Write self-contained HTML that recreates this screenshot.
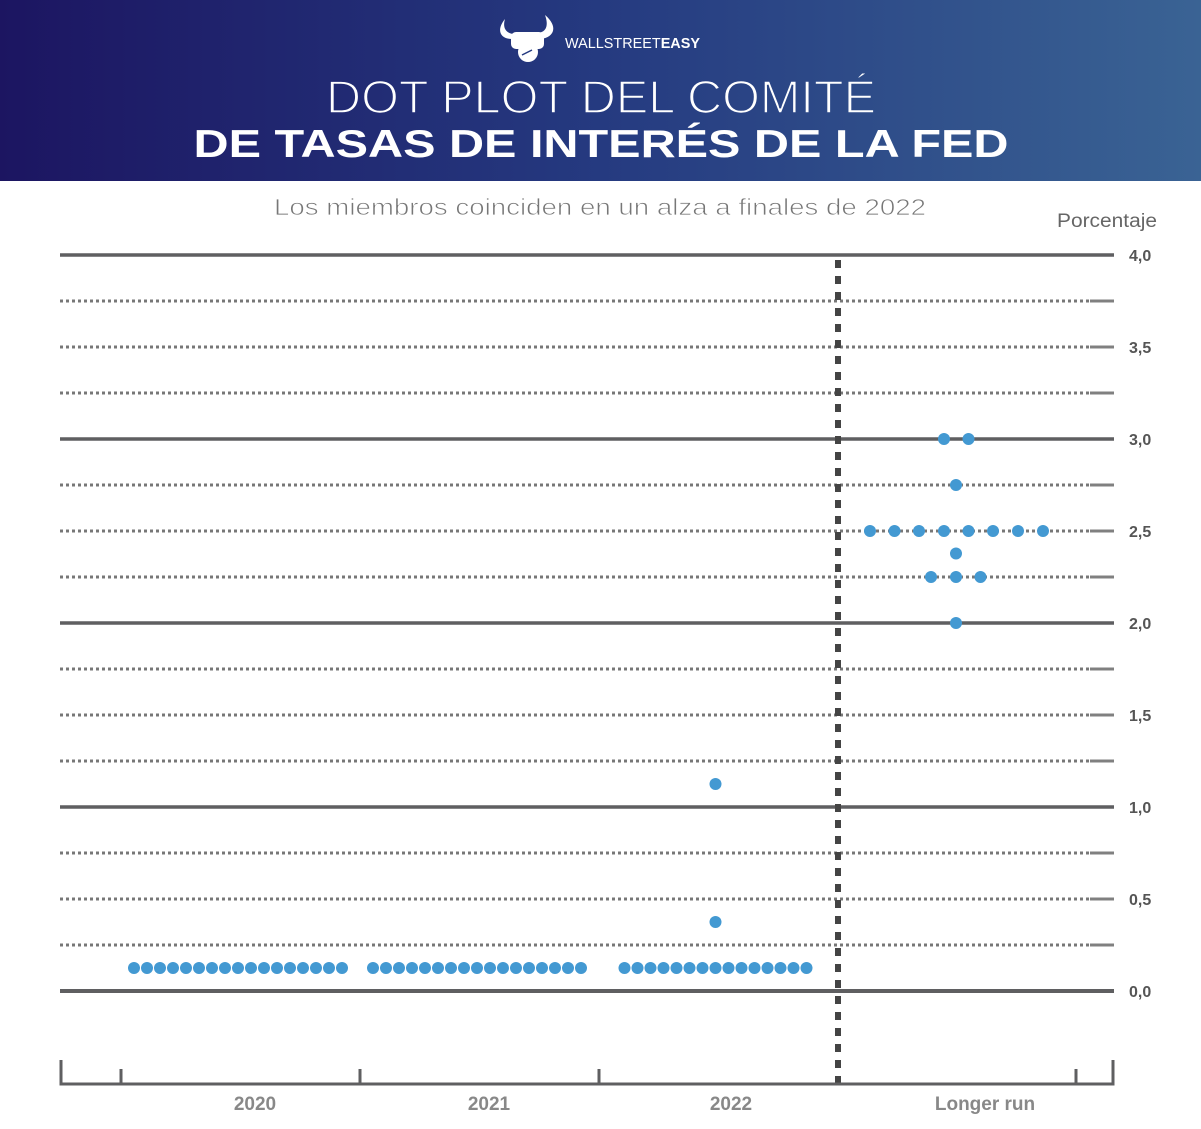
<!DOCTYPE html>
<html>
<head>
<meta charset="utf-8">
<style>
  html,body{margin:0;padding:0;background:#fff;}
  body{width:1201px;height:1129px;overflow:hidden;}
  svg{display:block;}
</style>
</head>
<body>
<svg width="1201" height="1129" viewBox="0 0 1201 1129" xmlns="http://www.w3.org/2000/svg">
  <defs>
    <linearGradient id="hg" x1="0" y1="0" x2="1201" y2="0" gradientUnits="userSpaceOnUse">
      <stop offset="0" stop-color="#1c1561"/>
      <stop offset="0.5" stop-color="#253a80"/>
      <stop offset="1" stop-color="#3a6394"/>
    </linearGradient>
  </defs>
  <!-- Header -->
  <rect x="0" y="0" width="1201" height="181" fill="url(#hg)"/>
  <!-- Logo -->
  <g fill="#fff">
    <path d="M512 39 C500 39 496 30 505 19 C502 29 507 34 515 34 Z"/>
    <path d="M541 39 C555 37 558 26 545 15 C549 26 546 32 538 33 Z"/>
    <rect x="511" y="32" width="33" height="17" rx="5"/>
    <circle cx="528" cy="52" r="10"/>
  </g>
  <path d="M522 55 L532 50" stroke="#243a80" stroke-width="1.5" fill="none"/>
  <text x="565" y="48" font-family="Liberation Sans, sans-serif" font-size="14.5" fill="#fff" textLength="135" lengthAdjust="spacingAndGlyphs"><tspan>WALLSTREET</tspan><tspan font-weight="bold">EASY</tspan></text>
  <!-- Titles -->
  <text x="601" y="113" text-anchor="middle" font-family="Liberation Sans, sans-serif" font-size="46" fill="#fff" stroke="url(#hg)" stroke-width="1.6" textLength="550" lengthAdjust="spacingAndGlyphs">DOT PLOT DEL COMITÉ</text>
  <text x="601" y="157" text-anchor="middle" font-family="Liberation Sans, sans-serif" font-weight="bold" font-size="39" fill="#fff" textLength="815" lengthAdjust="spacingAndGlyphs">DE TASAS DE INTERÉS DE LA FED</text>

  <!-- Subtitle -->
  <text x="600" y="215" text-anchor="middle" font-family="Liberation Sans, sans-serif" font-size="23" fill="#777" stroke="#fff" stroke-width="0.7" textLength="652" lengthAdjust="spacingAndGlyphs">Los miembros coinciden en un alza a finales de 2022</text>
  <text x="1157" y="227" text-anchor="end" font-family="Liberation Sans, sans-serif" font-size="19" fill="#666" textLength="100" lengthAdjust="spacingAndGlyphs">Porcentaje</text>

  <!-- Grid: solid lines -->
  <g stroke="#5f5f61" stroke-width="3.5">
    <line x1="60" y1="255" x2="1114" y2="255"/>
    <line x1="60" y1="439" x2="1114" y2="439"/>
    <line x1="60" y1="623" x2="1114" y2="623"/>
    <line x1="60" y1="807" x2="1114" y2="807"/>
    <line x1="60" y1="991" x2="1114" y2="991" stroke-width="4"/>
  </g>
  <!-- Grid: dotted lines -->
  <g stroke="#777" stroke-width="3" stroke-dasharray="3 3">
    <line x1="60" y1="301" x2="1090" y2="301"/>
    <line x1="60" y1="347" x2="1090" y2="347"/>
    <line x1="60" y1="393" x2="1090" y2="393"/>
    <line x1="60" y1="485" x2="1090" y2="485"/>
    <line x1="60" y1="531" x2="1090" y2="531"/>
    <line x1="60" y1="577" x2="1090" y2="577"/>
    <line x1="60" y1="669" x2="1090" y2="669"/>
    <line x1="60" y1="715" x2="1090" y2="715"/>
    <line x1="60" y1="761" x2="1090" y2="761"/>
    <line x1="60" y1="853" x2="1090" y2="853"/>
    <line x1="60" y1="899" x2="1090" y2="899"/>
    <line x1="60" y1="945" x2="1090" y2="945"/>
  </g>
  <g stroke="#808080" stroke-width="3">
    <line x1="1090" y1="301" x2="1114" y2="301"/>
    <line x1="1090" y1="347" x2="1114" y2="347"/>
    <line x1="1090" y1="393" x2="1114" y2="393"/>
    <line x1="1090" y1="485" x2="1114" y2="485"/>
    <line x1="1090" y1="531" x2="1114" y2="531"/>
    <line x1="1090" y1="577" x2="1114" y2="577"/>
    <line x1="1090" y1="669" x2="1114" y2="669"/>
    <line x1="1090" y1="715" x2="1114" y2="715"/>
    <line x1="1090" y1="761" x2="1114" y2="761"/>
    <line x1="1090" y1="853" x2="1114" y2="853"/>
    <line x1="1090" y1="899" x2="1114" y2="899"/>
    <line x1="1090" y1="945" x2="1114" y2="945"/>
  </g>

  <!-- Right labels -->
  <g font-family="Liberation Sans, sans-serif" font-weight="bold" font-size="16" fill="#555">
    <text x="1129" y="261">4,0</text>
    <text x="1129" y="353">3,5</text>
    <text x="1129" y="445">3,0</text>
    <text x="1129" y="537">2,5</text>
    <text x="1129" y="629">2,0</text>
    <text x="1129" y="721">1,5</text>
    <text x="1129" y="813">1,0</text>
    <text x="1129" y="905">0,5</text>
    <text x="1129" y="997">0,0</text>
  </g>

  <!-- Vertical dashed separator -->
  <line x1="838" y1="260" x2="838" y2="1084" stroke="#444" stroke-width="6" stroke-dasharray="8 8"/>

  <!-- Bottom axis -->
  <g stroke="#5f5f61" stroke-width="3" fill="none">
    <polyline points="61,1060 61,1084 1113,1084 1113,1060"/>
    <line x1="121" y1="1069" x2="121" y2="1084"/>
    <line x1="360" y1="1069" x2="360" y2="1084"/>
    <line x1="599" y1="1069" x2="599" y2="1084"/>
    <line x1="1076" y1="1069" x2="1076" y2="1084"/>
  </g>
  <g font-family="Liberation Sans, sans-serif" font-weight="bold" font-size="19" fill="#888" text-anchor="middle">
    <text x="255" y="1110">2020</text>
    <text x="489" y="1110">2021</text>
    <text x="731" y="1110">2022</text>
    <text x="985" y="1110">Longer run</text>
  </g>

  <!-- Dots -->
  <g fill="#4399d2">
    <!-- 2020 -->
    <circle cx="134" cy="968" r="6"/><circle cx="147" cy="968" r="6"/><circle cx="160" cy="968" r="6"/><circle cx="173" cy="968" r="6"/><circle cx="186" cy="968" r="6"/><circle cx="199" cy="968" r="6"/><circle cx="212" cy="968" r="6"/><circle cx="225" cy="968" r="6"/><circle cx="238" cy="968" r="6"/><circle cx="251" cy="968" r="6"/><circle cx="264" cy="968" r="6"/><circle cx="277" cy="968" r="6"/><circle cx="290" cy="968" r="6"/><circle cx="303" cy="968" r="6"/><circle cx="316" cy="968" r="6"/><circle cx="329" cy="968" r="6"/><circle cx="342" cy="968" r="6"/>
    <!-- 2021 -->
    <circle cx="373" cy="968" r="6"/><circle cx="386" cy="968" r="6"/><circle cx="399" cy="968" r="6"/><circle cx="412" cy="968" r="6"/><circle cx="425" cy="968" r="6"/><circle cx="438" cy="968" r="6"/><circle cx="451" cy="968" r="6"/><circle cx="464" cy="968" r="6"/><circle cx="477" cy="968" r="6"/><circle cx="490" cy="968" r="6"/><circle cx="503" cy="968" r="6"/><circle cx="516" cy="968" r="6"/><circle cx="529" cy="968" r="6"/><circle cx="542" cy="968" r="6"/><circle cx="555" cy="968" r="6"/><circle cx="568" cy="968" r="6"/><circle cx="581" cy="968" r="6"/>
    <!-- 2022 -->
    <circle cx="624.5" cy="968" r="6"/><circle cx="637.5" cy="968" r="6"/><circle cx="650.5" cy="968" r="6"/><circle cx="663.5" cy="968" r="6"/><circle cx="676.5" cy="968" r="6"/><circle cx="689.5" cy="968" r="6"/><circle cx="702.5" cy="968" r="6"/><circle cx="715.5" cy="968" r="6"/><circle cx="728.5" cy="968" r="6"/><circle cx="741.5" cy="968" r="6"/><circle cx="754.5" cy="968" r="6"/><circle cx="767.5" cy="968" r="6"/><circle cx="780.5" cy="968" r="6"/><circle cx="793.5" cy="968" r="6"/><circle cx="806.5" cy="968" r="6"/>
    <circle cx="715.5" cy="922" r="6"/>
    <circle cx="715.5" cy="784" r="6"/>
    <!-- Longer run -->
    <circle cx="944" cy="439" r="6"/><circle cx="968.5" cy="439" r="6"/>
    <circle cx="956" cy="485" r="6"/>
    <circle cx="870" cy="531" r="6"/><circle cx="894.5" cy="531" r="6"/><circle cx="919" cy="531" r="6"/><circle cx="944" cy="531" r="6"/><circle cx="968.5" cy="531" r="6"/><circle cx="993" cy="531" r="6"/><circle cx="1018" cy="531" r="6"/><circle cx="1043" cy="531" r="6"/>
    <circle cx="956" cy="553.5" r="6"/>
    <circle cx="931" cy="577" r="6"/><circle cx="956" cy="577" r="6"/><circle cx="980.5" cy="577" r="6"/>
    <circle cx="956" cy="623" r="6"/>
  </g>
</svg>
</body>
</html>
